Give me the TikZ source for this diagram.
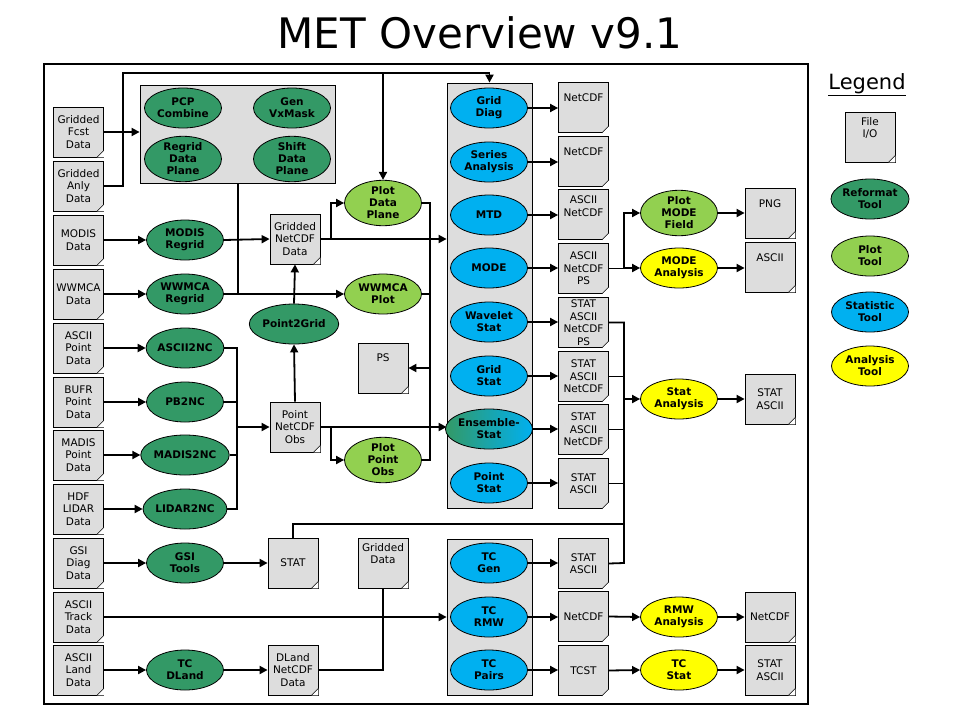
\documentclass[tikz,border=0pt]{standalone}
\usepackage{fontspec}
\setmainfont{DejaVu Sans}
\usetikzlibrary{shapes.geometric,arrows.meta}
\definecolor{rg}{HTML}{339966}
\definecolor{pg}{HTML}{92D050}
\definecolor{sb}{HTML}{00B0F0}
\definecolor{ay}{HTML}{FFFF00}
\definecolor{dg}{HTML}{DDDDDD}
\newcommand\Doc[4]{\node[doc] (#1) at (#2) {#3#4};
  \fill[white] ([xshift=-7pt]#1.south east) -- ([yshift=7pt]#1.south east) -- (#1.south east) -- cycle;
  \draw[line width=0.6pt] ([xshift=-7pt]#1.south east) -- ([yshift=7pt]#1.south east);}
\begin{document}
\begin{tikzpicture}[x=1pt,y=-1pt,
 doc/.style={draw,fill=dg,line width=0.8pt,minimum width=50pt,minimum height=50pt,inner sep=0pt,align=center,font=\fontsize{10.5}{12.5}\selectfont},
 tool/.style={ellipse,draw,line width=0.8pt,minimum width=77pt,minimum height=40pt,inner sep=0pt,align=center,font=\bfseries\fontsize{10.5}{12}\selectfont},
 rt/.style={tool,fill=rg}, pt/.style={tool,fill=pg}, st/.style={tool,fill=sb}, ant/.style={tool,fill=ay},
 gb/.style={draw,fill=dg,line width=0.8pt,inner sep=0pt},
 ln/.style={line width=1.8pt},
 ar/.style={line width=1.8pt,-{Triangle[length=8pt,width=8pt]}}]
\useasboundingbox (0,0) rectangle (960,720);
\node[font=\fontsize{42}{46}\selectfont] (title) at (480,33) {MET Overview v9.1};
\node[draw,line width=1.8pt,minimum width=764pt,minimum height=640pt,inner sep=0pt] (frame) at (426,384) {};
% gray boxes
\node[gb,minimum width=195pt,minimum height=98pt] (box) at (237.5,134) {};
\node[gb,minimum width=85pt,minimum height=425pt] (scol) at (489.5,295.5) {};
\node[gb,minimum width=85pt,minimum height=156pt] (tcol) at (489.5,617) {};
% left docs
\Doc{dF}{78.5,132}{Gridded\\Fcst\\Data}{}
\Doc{dA}{78.5,186}{Gridded\\Anly\\Data}{}
\Doc{dM}{78.5,240}{MODIS\\Data}{}
\Doc{dW}{78.5,294}{WWMCA\\Data}{}
\Doc{dAP}{78.5,348}{ASCII\\Point\\Data}{}
\Doc{dB}{78.5,402}{BUFR\\Point\\Data}{}
\Doc{dMP}{78.5,455}{MADIS\\Point\\Data}{}
\Doc{dH}{78.5,509}{HDF\\LIDAR\\Data}{}
\Doc{dG}{78.5,563}{GSI\\Diag\\Data}{}
\Doc{dT}{78.5,617}{ASCII\\Track\\Data}{}
\Doc{dL}{78.5,670}{ASCII\\Land\\Data}{}
% reformat tools
\node[rt] (pcp) at (183,108) {PCP\\Combine};
\node[rt] (gen) at (292,108) {Gen\\VxMask};
\node[rt] (rdp) at (183,159) {Regrid\\Data\\Plane};
\node[rt] (sdp) at (292,159) {Shift\\Data\\Plane};
\node[rt] (modr) at (185,240) {MODIS\\Regrid};
\node[rt] (wwr) at (185,294) {WWMCA\\Regrid};
\node[rt] (a2nc) at (185,348) {ASCII2NC};
\node[rt] (pb2nc) at (185,402) {PB2NC};
\node[rt] (mad) at (185,455) {MADIS2NC};
\node[rt] (lid) at (185,509) {LIDAR2NC};
\node[rt] (gsi) at (185,563) {GSI\\Tools};
\node[rt] (dland) at (185,670) {TC\\DLand};
\node[rt] (p2g) at (294,324) {Point2Grid};
% middle docs
\Doc{gnc}{295,239}{Gridded\\NetCDF\\Data}{}
\Doc{pnc}{295,427}{Point\\NetCDF\\Obs}{}
\Doc{ps}{383,368}{PS\\[8pt]}{}
\Doc{stat}{293,563}{STAT}{}
\Doc{gdat}{383,563}{Gridded\\Data\\[6pt]}{}
\Doc{dlnc}{293,670}{DLand\\NetCDF\\Data}{}
% plot tools
\node[pt] (pdp) at (383,203) {Plot\\Data\\Plane};
\node[pt] (wpl) at (383,294) {WWMCA\\Plot};
\node[pt] (ppo) at (383,460) {Plot\\Point\\Obs};
% stat tools
\node[st] (gd) at (489,108) {Grid\\Diag};
\node[st] (ser) at (489,162) {Series\\Analysis};
\node[st] (mtd) at (489,215) {MTD};
\node[st] (mode) at (489,268) {MODE};
\node[st] (wav) at (489,322) {Wavelet\\Stat};
\node[st] (gs) at (489,376) {Grid\\Stat};
\node[tool,left color=rg,right color=sb] (ens) at (489,429) {Ensemble-\\Stat};
\node[st] (ps2) at (489,483) {Point\\Stat};
\node[st] (tcg) at (489,563) {TC\\Gen};
\node[st] (tcr) at (489,617) {TC\\RMW};
\node[st] (tcp) at (489,670) {TC\\Pairs};
% outputs
\Doc{o1}{583.5,107.5}{NetCDF\\[8pt]}{}
\Doc{o2}{583.5,161.5}{NetCDF\\[8pt]}{}
\Doc{o3}{583.5,214.5}{ASCII\\NetCDF\\[4pt]}{}
\Doc{o4}{583.5,268.5}{ASCII\\NetCDF\\PS}{}
\Doc{o5}{583.5,322.5}{STAT\\ASCII\\NetCDF\\PS}{}
\Doc{o6}{583.5,376.5}{STAT\\ASCII\\NetCDF}{}
\Doc{o7}{583.5,429.5}{STAT\\ASCII\\NetCDF}{}
\Doc{o8}{583.5,483.5}{STAT\\ASCII}{}
\Doc{t1}{583.5,563.5}{STAT\\ASCII}{}
\Doc{t2}{583.5,616.5}{NetCDF}{}
\Doc{t3}{583.5,670.5}{TCST}{}
% analysis
\node[pt] (pmf) at (679,213) {Plot\\MODE\\Field};
\node[ant] (moa) at (679,268) {MODE\\Analysis};
\node[ant] (sta) at (679,399) {Stat\\Analysis};
\node[ant] (rmwa) at (679,617) {RMW\\Analysis};
\node[ant] (tcs) at (679,670) {TC\\Stat};
\Doc{png}{770,213}{PNG\\[6pt]}{}
\Doc{asc}{770,267}{ASCII\\[6pt]}{}
\Doc{sao}{770,399}{STAT\\ASCII}{}
\Doc{rnc}{770,617}{NetCDF}{}
\Doc{tso}{770,670}{STAT\\ASCII}{}
% legend
\node[font=\fontsize{21}{24}\selectfont] (leg) at (867,85) {\underline{Legend}};
\Doc{ldoc}{870,137}{File\\I/O\\[6pt]}{}
\node[rt] (lr) at (870,199) {Reformat\\Tool};
\node[pt] (lp) at (870,256) {Plot\\Tool};
\node[st] (ls) at (870,312) {Statistic\\Tool};
\node[ant] (la) at (870,366) {Analysis\\Tool};
% coordinates
\coordinate (tA) at (123,73);
\coordinate (j1) at (238,294);
\coordinate (v430) at (430,460);
\coordinate (v237) at (237,509);
\coordinate (v624) at (624,563);
% connectors left
\draw[ar] (dF.east) -- (dF.east -| box.west);
\draw[ar] (dA.east) -| (tA) -| (scol.north);
\draw[ar] (pdp.north |- tA) -- (pdp.north);
\draw[ar] (dM.east) -- (modr.west);
\draw[ar] (dW.east) -- (wwr.west);
\draw[ar] (dAP.east) -- (a2nc.west);
\draw[ar] (dB.east) -- (pb2nc.west);
\draw[ar] (dMP.east) -- (mad.west);
\draw[ar] (dH.east) -- (lid.west);
\draw[ar] (dG.east) -- (gsi.west);
\draw[ar] (dL.east) -- (dland.west);
\draw[ln] (box.south -| j1) -- (j1);
\draw[ar] (modr.east) -- (gnc.west);
\draw[ar] (wwr.east) -- (wpl.west);
\draw[ar] (gnc.east) -- (gnc.east -| scol.west);
\draw[ar] (gnc.east -| 331,0) |- (pdp.west);
\draw[ar] (p2g.north) -- (gnc.south);
\draw[ar] (pnc.north) -- (p2g.south);
\draw[ln] (pdp.east) -| (v430) -- (ppo.east);
\draw[ln] (wpl.east) -- (wpl.east -| v430);
\draw[ar] (ps.east -| v430) -- (ps.east);
\draw[ln] (a2nc.east) -| (v237) -- (lid.east);
\draw[ln] (pb2nc.east) -- (pb2nc.east -| v237);
\draw[ln] (mad.east) -- (mad.east -| v237);
\draw[ar] (pnc.west -| v237) -- (pnc.west);
\draw[ar] (pnc.east) -- (pnc.east -| scol.west);
\draw[ar] (pnc.east -| 331,0) |- (ppo.west);
\draw[ar] (gsi.east) -- (stat.west);
\draw[ln] (stat.north) |- (624,524);
\draw[ln] (dlnc.east) -| (gdat.south);
\draw[ar] (dT.east) -- (dT.east -| tcol.west);
\draw[ar] (dland.east) -- (dlnc.west);
% stat outputs
\draw[ar] (gd.east) -- (o1.west |- gd.east);
\draw[ar] (ser.east) -- (o2.west |- ser.east);
\draw[ar] (mtd.east) -- (o3.west |- mtd.east);
\draw[ar] (mode.east) -- (o4.west |- mode.east);
\draw[ar] (wav.east) -- (o5.west |- wav.east);
\draw[ar] (gs.east) -- (o6.west |- gs.east);
\draw[ar] (ens.east) -- (o7.west |- ens.east);
\draw[ar] (ps2.east) -- (o8.west |- ps2.east);
\draw[ar] (tcg.east) -- (t1.west |- tcg.east);
\draw[ar] (tcr.east) -- (t2.west |- tcr.east);
\draw[ar] (tcp.east) -- (t3.west |- tcp.east);
\draw[ln] (o4.east) -- (624,268.5);
\draw[ar] (624,268.5) |- (pmf.west);
\draw[ar] (624,268) -- (moa.west);
\draw[ln] (o5.east) -| (v624) -- (t1.east);
\draw[ln] (o6.east) -- (o6.east -| v624);
\draw[ln] (o7.east) -- (o7.east -| v624);
\draw[ln] (o8.east) -- (o8.east -| v624);
\draw[ar] (sta.west -| v624) -- (sta.west);
\draw[ar] (pmf.east) -- (png.west |- pmf.east);
\draw[ar] (moa.east) -- (asc.west |- moa.east);
\draw[ar] (sta.east) -- (sao.west);
\draw[ar] (t2.east) -- (rmwa.west);
\draw[ar] (rmwa.east) -- (rnc.west);
\draw[ar] (t3.east) -- (tcs.west);
\draw[ar] (tcs.east) -- (tso.west);
\end{tikzpicture}
\end{document}
